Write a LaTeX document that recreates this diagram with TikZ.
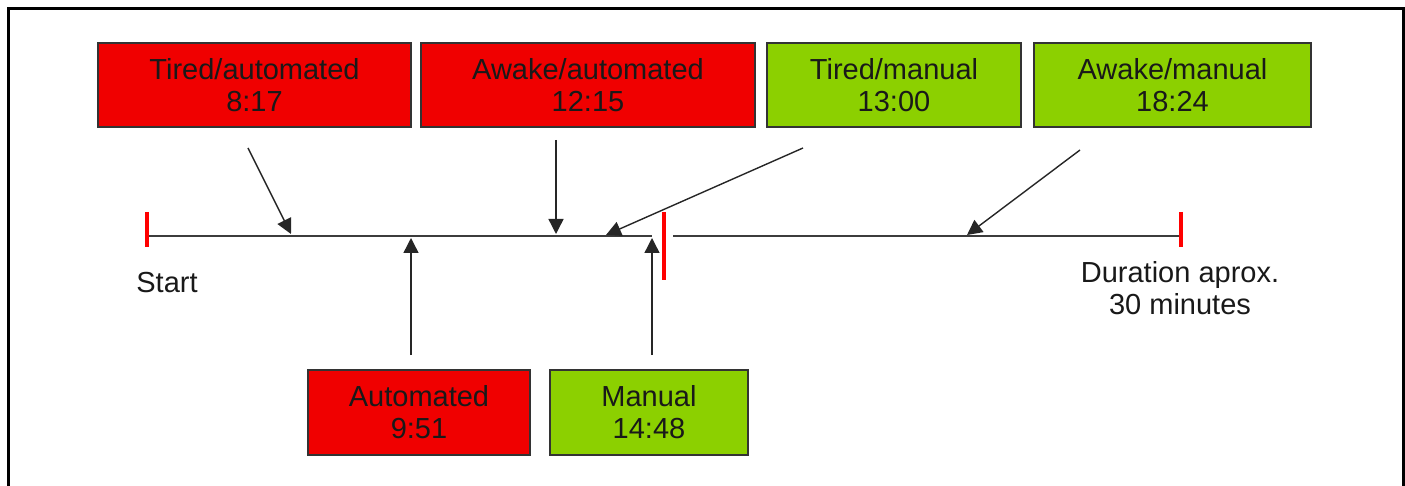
\documentclass[tikz,border=0pt]{standalone}
\usepackage{fontspec}
\setmainfont{Liberation Sans}
\usetikzlibrary{arrows.meta}
\definecolor{boxred}{RGB}{240,0,0}
\definecolor{boxgreen}{RGB}{140,208,0}
\definecolor{linegray}{RGB}{60,60,60}
\begin{document}
\begin{tikzpicture}[x=1pt,y=-1pt,
  lbl/.style={font=\fontsize{29}{32}\selectfont,align=center,text=black!90},
  box/.style={lbl,draw=black!80,line width=1.2pt,inner sep=0pt,minimum height=84pt},
  redbox/.style={box,fill=boxred},
  greenbox/.style={box,fill=boxgreen},
  tick/.style={draw=red,line width=4.5pt},
  axis/.style={draw=linegray,line width=1.8pt},
  conn/.style={draw=black!85,line width=1.4pt,-{Triangle[length=15pt,width=15pt]}}]
\useasboundingbox (0,0) rectangle (1405,486);
% frame
\draw[line width=3pt] (8,486) -- (8,9) -- (1403,9) -- (1403,486);
% boxes
\node[redbox,minimum width=313pt] (ta) at (254.5,85) {Tired/automated\\8:17};
\node[redbox,minimum width=334pt] (aa) at (588,85) {Awake/automated\\12:15};
\node[greenbox,minimum width=254pt] (tm) at (894,85) {Tired/manual\\13:00};
\node[greenbox,minimum width=277pt] (am) at (1172.5,85) {Awake/manual\\18:24};
\node[redbox,minimum width=222pt,minimum height=85pt] (au) at (419,412.5) {Automated\\9:51};
\node[greenbox,minimum width=198pt,minimum height=85pt] (ma) at (649,412.5) {Manual\\14:48};
% labels
\node[lbl] (start) at (167,283) {Start};
\node[lbl] (dur) at (1180,288) {Duration aprox.\\30 minutes};
% timeline
\coordinate (a0) at (147,236);
\coordinate (a1) at (652,236);
\coordinate (a2) at (673,236);
\coordinate (a3) at (1181,236);
\draw[axis] (a0) -- (a1);
\draw[axis] (a2) -- (a3);
\draw[tick] (147,212) -- (147,247);
\draw[tick] (664,212) -- (664,280);
\draw[tick] (1181,212) -- (1181,247);
% connector ends
\coordinate (s1) at (248,148); \coordinate (t1) at (291,234);
\coordinate (s2) at (556,140); \coordinate (t2) at (556,234);
\coordinate (s3) at (803,148); \coordinate (t3) at (606,235);
\coordinate (s4) at (1080,150); \coordinate (t4) at (967,235);
\coordinate (s5) at (411,355); \coordinate (t5) at (411,238);
\coordinate (s6) at (652,355); \coordinate (t6) at (652,238);
\draw[conn] (s1) -- (t1);
\draw[conn] (s2) -- (t2);
\draw[conn] (s3) -- (t3);
\draw[conn] (s4) -- (t4);
\draw[conn] (s5) -- (t5);
\draw[conn] (s6) -- (t6);
\end{tikzpicture}
\end{document}
